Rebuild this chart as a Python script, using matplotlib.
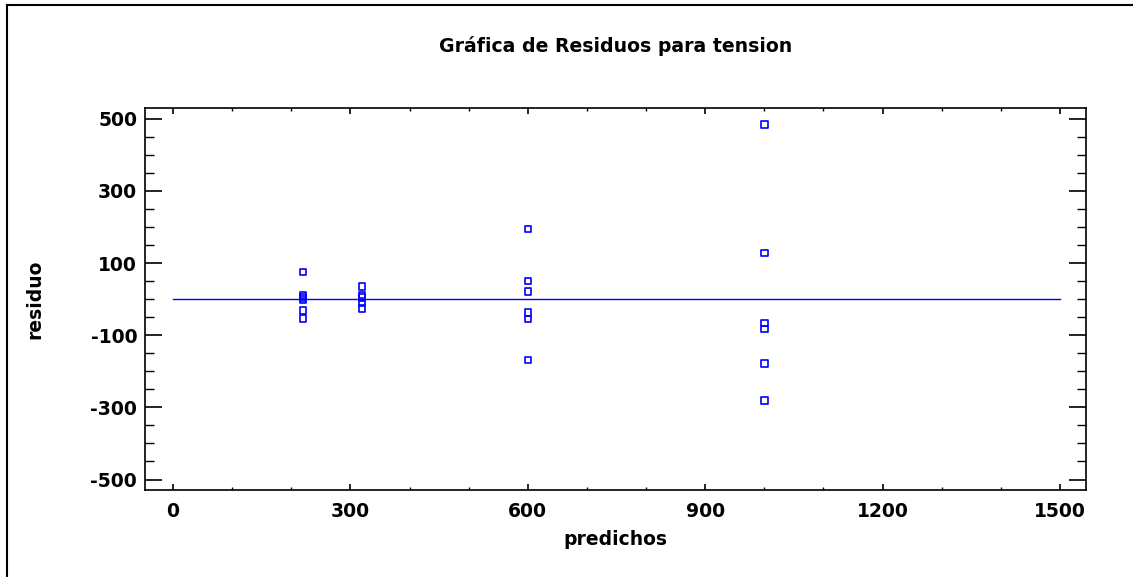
import numpy as np
import matplotlib.pyplot as plt
from matplotlib.lines import Line2D
from matplotlib.ticker import MultipleLocator

plt.rcParams['font.family'] = ['DejaVu Sans']
plt.rcParams['axes.unicode_minus'] = False

# ── DATA ──
predichos = [220] * 6 + [320] * 5 + [600] * 6 + [1000] * 6
residuos = [76, 12, 4, -1, -31, -53,
            35, 12, 4, -10, -26,
            194, 50, 22, -37, -55, -168,
            485, 128, -66, -83, -179, -281]
linea_x = [0, 1500]
linea_y = [0, 0]

blue = '#0000ff'

fig = plt.figure(figsize=(11.33, 5.77), dpi=100)
ax = fig.add_axes([0.1284, 0.1508, 0.8301, 0.6620])

ax.plot(linea_x, linea_y, color=blue, lw=1.0)
ax.scatter(predichos, residuos, marker='s', s=22,
           facecolors='none', edgecolors=blue, linewidths=1.2,
           zorder=3)

ax.set_xlim(-46.5, 1544)
ax.set_ylim(-529, 530)

ax.xaxis.set_major_locator(MultipleLocator(300))
ax.xaxis.set_minor_locator(MultipleLocator(100))
ax.set_yticks([-500, -300, -100, 100, 300, 500])
ax.yaxis.set_minor_locator(MultipleLocator(50))

ax.tick_params(axis='x', which='major', direction='in', length=4,
               width=1.2, top=True, bottom=True, pad=9)
ax.tick_params(axis='x', which='minor', direction='in', length=2,
               width=1.0, top=True, bottom=True)
ax.tick_params(axis='y', which='major', direction='in', length=12,
               width=1.2, left=True, right=True, pad=6)
ax.tick_params(axis='y', which='minor', direction='in', length=6.5,
               width=1.0, left=True, right=True)

for lab in ax.get_xticklabels() + ax.get_yticklabels():
    lab.set_fontweight('bold')
    lab.set_fontsize(13.5)

for sp in ax.spines.values():
    sp.set_linewidth(1.2)

ax.set_title('Gráfica de Residuos para tension', fontsize=13.6,
             fontweight='bold', pad=40)
ax.set_xlabel('predichos', fontsize=13.5, fontweight='bold', labelpad=6)
ax.set_ylabel('residuo', fontsize=13.5, fontweight='bold', labelpad=33)

# outer frame (left and top edges visible in the reference)
fig.add_artist(Line2D([0.0066, 0.0066], [0, 0.992], transform=fig.transFigure,
                      color='black', lw=1.5))
fig.add_artist(Line2D([0.0066, 1.0], [0.992, 0.992], transform=fig.transFigure,
                      color='black', lw=1.5))

plt.savefig('out.png', dpi=100)
